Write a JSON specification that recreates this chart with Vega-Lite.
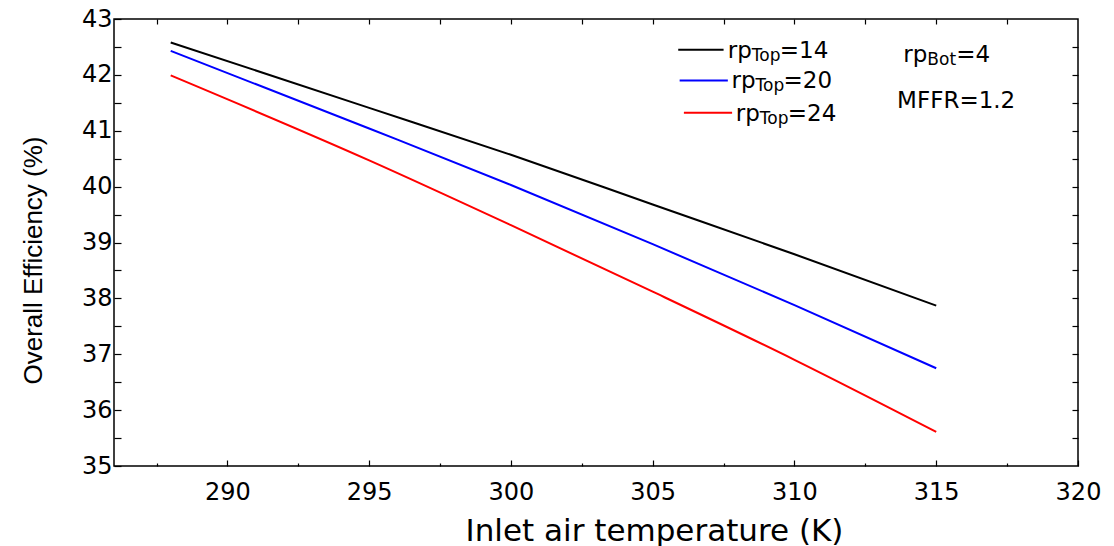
{
  "$schema": "https://vega.github.io/schema/vega-lite/v6.json",
  "width": 964,
  "height": 447,
  "autosize": {"type": "none"},
  "padding": {"left": 114, "top": 19, "right": 36, "bottom": 80},
  "background": "white",
  "data": {"values": [{}]},
  "config": {
    "view": {"stroke": "black", "strokeWidth": 1.5},
    "axis": {"grid": false, "domain": false, "tickColor": "black", "tickWidth": 1.2, "labelColor": "black", "titleColor": "black", "labelFont": "DejaVu Sans", "titleFont": "Liberation Sans", "titleFontWeight": "normal", "labelOverlap": false},
    "text": {"font": "DejaVu Sans", "color": "black", "fontSize": 23, "align": "left", "baseline": "alphabetic"}
  },
  "datasets": {
    "eff": [
      {"T": 288, "eff": 42.58, "rp": "14"},
      {"T": 295, "eff": 41.41, "rp": "14"},
      {"T": 300, "eff": 40.57, "rp": "14"},
      {"T": 305, "eff": 39.68, "rp": "14"},
      {"T": 310, "eff": 38.79, "rp": "14"},
      {"T": 315, "eff": 37.87, "rp": "14"},
      {"T": 288, "eff": 42.43, "rp": "20"},
      {"T": 295, "eff": 41.04, "rp": "20"},
      {"T": 300, "eff": 40.03, "rp": "20"},
      {"T": 305, "eff": 38.97, "rp": "20"},
      {"T": 310, "eff": 37.88, "rp": "20"},
      {"T": 315, "eff": 36.75, "rp": "20"},
      {"T": 288, "eff": 41.99, "rp": "24"},
      {"T": 295, "eff": 40.47, "rp": "24"},
      {"T": 300, "eff": 39.31, "rp": "24"},
      {"T": 305, "eff": 38.12, "rp": "24"},
      {"T": 310, "eff": 36.90, "rp": "24"},
      {"T": 315, "eff": 35.61, "rp": "24"}
    ]
  },
  "layer": [
    {
      "data": {"name": "eff"},
      "mark": {"type": "line", "strokeWidth": 2, "interpolate": "monotone"},
      "encoding": {
        "x": {"field": "T", "type": "quantitative", "scale": {"domain": [286, 320], "nice": false, "zero": false},
          "axis": {"orient": "bottom", "values": [290, 295, 300, 305, 310, 315, 320], "tickSize": -6, "labelFontSize": 24, "labelPadding": 20, "labelFlush": false, "title": "Inlet air temperature (K)", "titleFont": "DejaVu Sans", "titleFontSize": 31, "titlePadding": 12, "titleX": 540}},
        "y": {"field": "eff", "type": "quantitative", "scale": {"domain": [35, 43], "nice": false, "zero": false},
          "axis": {"orient": "left", "values": [35, 36, 37, 38, 39, 40, 41, 42, 43], "tickSize": -7, "labelFontSize": 24, "labelPadding": 9, "title": "Overall Efficiency (%)", "titleFontSize": 26, "titlePadding": 35, "titleY": 241}},
        "color": {"field": "rp", "type": "nominal", "scale": {"domain": ["14", "20", "24"], "range": ["#000000", "#0000ff", "#ff0000"]}, "legend": null}
      }
    },
    {
      "mark": {"type": "rule", "color": "#000000", "strokeWidth": 2},
      "encoding": {
        "x": {"datum": 305.9, "type": "quantitative", "axis": {"orient": "bottom", "values": [287.5, 292.5, 297.5, 302.5, 307.5, 312.5, 317.5], "tickSize": -3, "labels": false, "title": null}},
        "x2": {"datum": 307.5},
        "y": {"datum": 42.45, "type": "quantitative", "axis": {"orient": "left", "values": [35.5, 36.5, 37.5, 38.5, 39.5, 40.5, 41.5, 42.5], "tickSize": -7, "labels": false, "title": null}}
      }
    },
    {
      "mark": {"type": "rule", "color": "#0000ff", "strokeWidth": 2},
      "encoding": {
        "x": {"datum": 305.95, "type": "quantitative", "axis": {"orient": "top", "values": [287.5, 290, 292.5, 295, 297.5, 300, 302.5, 305, 307.5, 310, 312.5, 315, 317.5], "tickSize": -5, "labels": false, "title": null}},
        "x2": {"datum": 307.65},
        "y": {"datum": 41.9, "type": "quantitative", "axis": {"orient": "right", "values": [35.5, 36, 36.5, 37, 37.5, 38, 38.5, 39, 39.5, 40, 40.5, 41, 41.5, 42, 42.5], "tickSize": -6, "labels": false, "title": null}}
      }
    },
    {
      "mark": {"type": "rule", "color": "#ff0000", "strokeWidth": 2},
      "encoding": {
        "x": {"datum": 306.1, "type": "quantitative", "axis": null},
        "x2": {"datum": 307.8},
        "y": {"datum": 41.32, "type": "quantitative", "axis": null}
      }
    },
    {"mark": {"type": "text", "text": "rp", "dy": 8}, "encoding": {"x": {"datum": 307.65, "type": "quantitative", "axis": null}, "y": {"datum": 42.45, "type": "quantitative", "axis": null}}},
    {"mark": {"type": "text", "text": "Top", "fontSize": 17, "dx": 24, "dy": 11}, "encoding": {"x": {"datum": 307.65, "type": "quantitative", "axis": null}, "y": {"datum": 42.45, "type": "quantitative", "axis": null}}},
    {"mark": {"type": "text", "text": "=14", "dx": 52, "dy": 8}, "encoding": {"x": {"datum": 307.65, "type": "quantitative", "axis": null}, "y": {"datum": 42.45, "type": "quantitative", "axis": null}}},
    {"mark": {"type": "text", "text": "rp", "dy": 8}, "encoding": {"x": {"datum": 307.78, "type": "quantitative", "axis": null}, "y": {"datum": 41.9, "type": "quantitative", "axis": null}}},
    {"mark": {"type": "text", "text": "Top", "fontSize": 17, "dx": 24, "dy": 11}, "encoding": {"x": {"datum": 307.78, "type": "quantitative", "axis": null}, "y": {"datum": 41.9, "type": "quantitative", "axis": null}}},
    {"mark": {"type": "text", "text": "=20", "dx": 52, "dy": 8}, "encoding": {"x": {"datum": 307.78, "type": "quantitative", "axis": null}, "y": {"datum": 41.9, "type": "quantitative", "axis": null}}},
    {"mark": {"type": "text", "text": "rp", "dy": 8}, "encoding": {"x": {"datum": 307.93, "type": "quantitative", "axis": null}, "y": {"datum": 41.32, "type": "quantitative", "axis": null}}},
    {"mark": {"type": "text", "text": "Top", "fontSize": 17, "dx": 24, "dy": 11}, "encoding": {"x": {"datum": 307.93, "type": "quantitative", "axis": null}, "y": {"datum": 41.32, "type": "quantitative", "axis": null}}},
    {"mark": {"type": "text", "text": "=24", "dx": 52, "dy": 8}, "encoding": {"x": {"datum": 307.93, "type": "quantitative", "axis": null}, "y": {"datum": 41.32, "type": "quantitative", "axis": null}}},
    {"mark": {"type": "text", "text": "rp", "dy": 8}, "encoding": {"x": {"datum": 313.84, "type": "quantitative", "axis": null}, "y": {"datum": 42.37, "type": "quantitative", "axis": null}}},
    {"mark": {"type": "text", "text": "Bot", "fontSize": 17, "dx": 24, "dy": 11}, "encoding": {"x": {"datum": 313.84, "type": "quantitative", "axis": null}, "y": {"datum": 42.37, "type": "quantitative", "axis": null}}},
    {"mark": {"type": "text", "text": "=4", "dx": 53, "dy": 8}, "encoding": {"x": {"datum": 313.84, "type": "quantitative", "axis": null}, "y": {"datum": 42.37, "type": "quantitative", "axis": null}}},
    {"mark": {"type": "text", "text": "MFFR=1.2", "dy": 8}, "encoding": {"x": {"datum": 313.62, "type": "quantitative", "axis": null}, "y": {"datum": 41.55, "type": "quantitative", "axis": null}}}
  ],
  "resolve": {"axis": {"x": "independent", "y": "independent"}}
}
